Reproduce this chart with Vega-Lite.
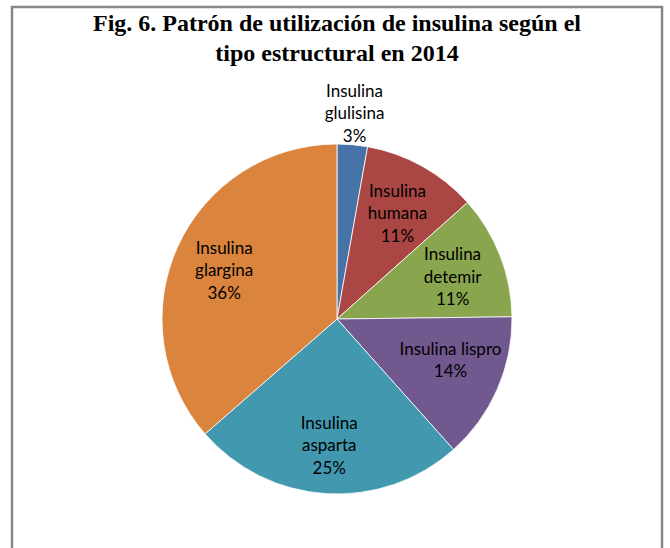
{
  "$schema": "https://vega.github.io/schema/vega-lite/v6.json",
  "autosize": "none",
  "width": 650,
  "height": 624,
  "padding": {"left": 12, "top": 7, "right": 8, "bottom": -83},
  "background": "white",
  "view": {"stroke": "#888888", "strokeWidth": 2.5, "fill": "white"},
  "config": {
    "view": {"stroke": "#888888", "strokeWidth": 2.5}
  },
  "title": {
    "text": ["Fig. 6. Patrón de utilización de insulina según el", "tipo estructural en 2014"],
    "font": "Liberation Serif",
    "fontSize": 24,
    "fontWeight": "bold",
    "color": "#000000",
    "lineHeight": 30,
    "anchor": "middle",
    "frame": "group",
    "offset": -59
  },
  "data": {
    "values": [
      {"tipo": "Insulina glulisina", "valor": 2.8, "orden": 1, "etiqueta": "Insulina\nglulisina\n3%"},
      {"tipo": "Insulina humana", "valor": 10.6, "orden": 2, "etiqueta": "Insulina\nhumana\n11%"},
      {"tipo": "Insulina detemir", "valor": 11.4, "orden": 3, "etiqueta": "Insulina\ndetemir\n11%"},
      {"tipo": "Insulina lispro", "valor": 13.6, "orden": 4, "etiqueta": "Insulina lispro\n14%"},
      {"tipo": "Insulina asparta", "valor": 25.2, "orden": 5, "etiqueta": "Insulina\nasparta\n25%"},
      {"tipo": "Insulina glargina", "valor": 36.4, "orden": 6, "etiqueta": "Insulina\nglargina\n36%"}
    ]
  },
  "encoding": {
    "theta": {"field": "valor", "type": "quantitative", "stack": true},
    "order": {"field": "orden", "type": "quantitative"}
  },
  "layer": [
    {
      "mark": {"type": "arc", "outerRadius": 175, "stroke": "#ffffff", "strokeWidth": 0.8},
      "encoding": {
        "color": {
          "field": "tipo",
          "type": "nominal",
          "legend": null,
          "scale": {
            "domain": ["Insulina glulisina", "Insulina humana", "Insulina detemir", "Insulina lispro", "Insulina asparta", "Insulina glargina"],
            "range": ["#4572A7", "#AA4643", "#89A54E", "#71588F", "#4198AF", "#DB843D"]
          }
        }
      }
    },
    {
      "mark": {"type": "text", "radius": 124, "dy": -19, "font": "Lato", "fontSize": 17, "lineHeight": 22.5, "lineBreak": "\n", "align": "center", "baseline": "middle", "color": "#000000"},
      "encoding": {
        "text": {"condition": {"test": "datum.tipo === 'Insulina glulisina'", "value": ""}, "field": "etiqueta", "type": "nominal"}
      }
    },
    {
      "mark": {"type": "text", "radius": 200, "dy": -28, "font": "Lato", "fontSize": 17, "lineHeight": 22.5, "lineBreak": "\n", "align": "center", "baseline": "middle", "color": "#000000"},
      "encoding": {
        "text": {"condition": {"test": "datum.tipo !== 'Insulina glulisina'", "value": ""}, "field": "etiqueta", "type": "nominal"}
      }
    }
  ]
}
